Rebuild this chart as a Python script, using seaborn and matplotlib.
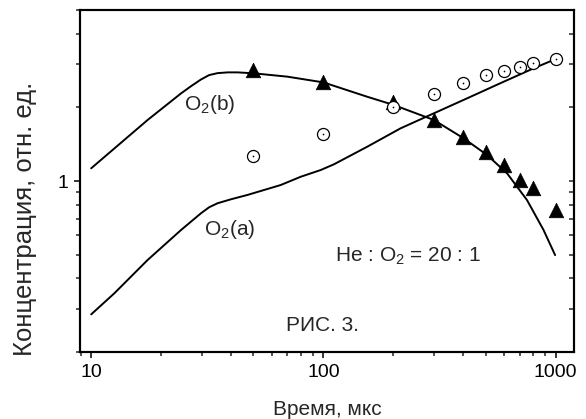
import numpy as np
import pandas as pd
import matplotlib
matplotlib.use('Agg')
import matplotlib.pyplot as plt
import matplotlib.ticker as mticker
import seaborn as sns

# --- данные ---
t_exp = [50, 100, 200, 300, 400, 500, 600, 700, 800, 1000]
b_exp = [2.84, 2.55, 2.11, 1.78, 1.52, 1.32, 1.16, 1.01, 0.94, 0.76]
a_exp = [1.26, 1.56, 2.01, 2.27, 2.51, 2.71, 2.82, 2.92, 3.03, 3.15]

t_b = [10, 12.6, 17.5, 24.4, 26.9, 29.7, 32.2, 35, 38.7, 42.7, 50.3, 70, 100,
       154.5, 201, 299, 402, 507, 618, 753, 887, 995]
b_calc = [1.127, 1.36, 1.776, 2.283, 2.44, 2.6, 2.71, 2.76, 2.78, 2.78, 2.755, 2.67, 2.53,
          2.21, 2.045, 1.776, 1.494, 1.277, 1.075, 0.836, 0.631, 0.498]

t_a = [10, 12.6, 17.5, 24.4, 26.9, 29.7, 32.2, 35, 40, 47.1, 65.5, 79.9, 97.4,
       111, 154.5, 215, 299, 416, 578, 804, 995]
a_calc = [0.285, 0.348, 0.4755, 0.631, 0.682, 0.738, 0.781, 0.811, 0.842, 0.877, 0.963, 1.041, 1.109,
          1.17, 1.381, 1.642, 1.891, 2.178, 2.51, 2.888, 3.145]

sns.set_style('ticks')
plt.rcParams['font.family'] = ['Liberation Sans', 'DejaVu Sans']
plt.rcParams['mathtext.fontset'] = 'custom'
plt.rcParams['mathtext.rm'] = 'Liberation Sans'
plt.rcParams['mathtext.it'] = 'Liberation Sans:italic'

fig = plt.figure(figsize=(5.86, 4.19), dpi=100)
ax = fig.add_axes([0.1365, 0.1599, 0.843, 0.8162])

sns.lineplot(x=t_b, y=b_calc, ax=ax, color='black', lw=1.4, sort=False)
sns.lineplot(x=t_a, y=a_calc, ax=ax, color='black', lw=1.4, sort=False)

sns.scatterplot(x=t_exp, y=b_exp, ax=ax, marker='^', s=110, color='black',
                edgecolor='black', linewidth=0.5, zorder=3)
sns.scatterplot(x=t_exp, y=a_exp, ax=ax, marker='o', s=75, facecolor='white',
                edgecolor='black', linewidth=0.9, zorder=3)
sns.scatterplot(x=t_exp, y=a_exp, ax=ax, marker='o', s=1.5, color='black',
                linewidth=0, zorder=4)

ax.set_xscale('log')
ax.set_yscale('log')
ax.set_xlim(8.95, 1200)
ax.set_ylim(0.2, 5)

ax.xaxis.set_major_locator(mticker.FixedLocator([10, 100, 1000]))
ax.xaxis.set_major_formatter(mticker.FixedFormatter(['10', '100', '1000']))
ax.xaxis.set_minor_locator(mticker.LogLocator(base=10, subs=np.arange(2, 10)))
ax.xaxis.set_minor_formatter(mticker.NullFormatter())
ax.yaxis.set_major_locator(mticker.FixedLocator([1]))
ax.yaxis.set_major_formatter(mticker.FixedFormatter(['1']))
ax.yaxis.set_minor_locator(mticker.LogLocator(base=10, subs=np.arange(2, 10)))
ax.yaxis.set_minor_formatter(mticker.NullFormatter())

ax.tick_params(which='major', direction='out', length=4.3, width=1.1, labelsize=14, colors='black')
ax.tick_params(which='minor', direction='out', length=2.7, width=1.1)
ax.tick_params(axis='x', pad=4.5)
ax.tick_params(axis='y', pad=4)

# правая ось: засечки внутрь
ax2 = ax.twinx()
ax2.set_yscale('log')
ax2.set_ylim(0.2, 5)
ax2.yaxis.set_major_locator(mticker.FixedLocator([1]))
ax2.yaxis.set_minor_locator(mticker.LogLocator(base=10, subs=np.arange(2, 10)))
ax2.yaxis.set_major_formatter(mticker.NullFormatter())
ax2.yaxis.set_minor_formatter(mticker.NullFormatter())
ax2.tick_params(which='both', direction='in', length=3.5, width=1.1)

for a in (ax, ax2):
    for sp in a.spines.values():
        sp.set_visible(True)
        sp.set_linewidth(1.5)
        sp.set_color('black')

ax.set_xlabel('Время, мкс', fontsize=15)
ax.xaxis.set_label_coords(0.5, -0.141)
ax.set_ylabel('Концентрация, отн. ед.', fontsize=18.5)
ax.yaxis.set_label_coords(-0.087, 0.389)

ax.text(25.1, 2.06, r'O$_2$(b)', fontsize=15, ha='left', va='center')
ax.text(30.6, 0.631, r'O$_2$(a)', fontsize=15, ha='left', va='center')
ax.text(111.8, 0.494, r'He : O$_2$ = 20 : 1', fontsize=15, ha='left', va='center')
ax.text(68.9, 0.256, 'РИС. 3.', fontsize=15, ha='left', va='center')

fig.savefig('out.png', dpi=100)
